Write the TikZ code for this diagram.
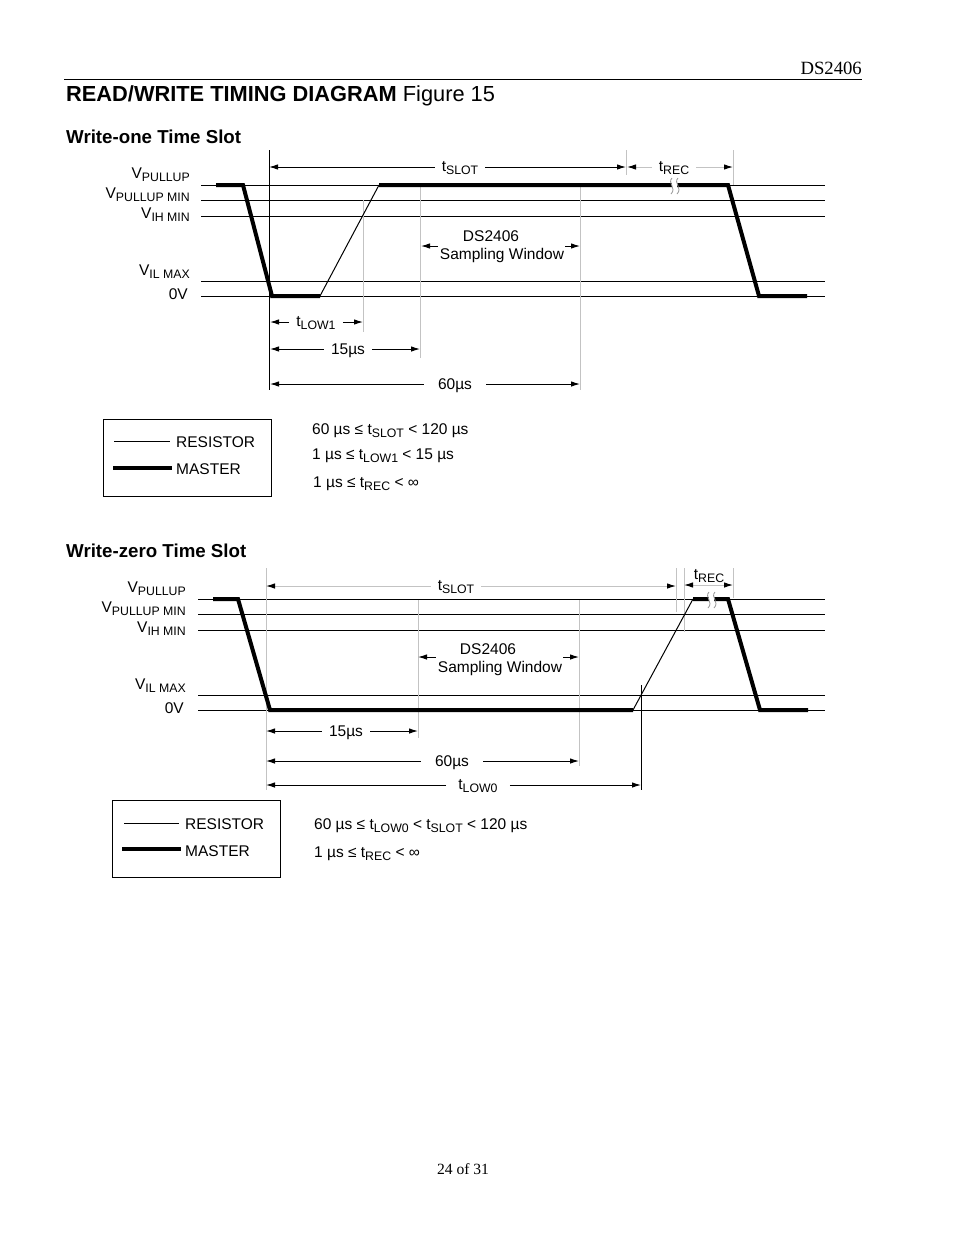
\documentclass[tikz,border=0pt]{standalone}
\usepackage{fontspec}
\setmainfont{Liberation Sans}
\newfontfamily\timesf{Liberation Serif}
\usetikzlibrary{arrows.meta,calc}
\definecolor{guide}{RGB}{195,195,195}
\definecolor{brk}{RGB}{150,150,150}
\newcommand{\sbs}[1]{\raisebox{-3.5pt}{\fontsize{12.3}{12.3}\selectfont #1}}
\begin{document}
\begin{tikzpicture}[x=1pt,y=-1pt,
  lbl/.style={font=\fontsize{15.5}{18}\selectfont, inner sep=0pt},
  dimtxt/.style={font=\fontsize{15.5}{18}\selectfont, inner xsep=7pt, inner ysep=0pt, anchor=base},
  thinl/.style={line width=1pt, black},
  greyl/.style={line width=1pt, guide},
  master/.style={line width=4pt, black, line join=miter, line cap=butt},
  brkl/.style={brk, line width=0.8pt},
  tip/.style={-{Latex[length=9pt,width=5.5pt,color=black]}},
]
\useasboundingbox (0,0) rectangle (954,1235);
\fill[white] (0,0) rectangle (954,1235);

% ---------- header ----------
\node[font=\timesf\fontsize{18.7}{22}\selectfont, anchor=base east, inner sep=0pt] (hdr) at (862,74) {DS2406};
\coordinate (hl) at (64,79);
\coordinate (hr) at (862,79);
\draw[thinl] (hl) -- (hr);
\node[font=\fontsize{21.8}{26}\selectfont, anchor=base west, inner sep=0pt] (title) at (66,101) {\textbf{READ/WRITE TIMING DIAGRAM} Figure 15};
\node[font=\bfseries\fontsize{18.7}{22}\selectfont, anchor=base west, inner sep=0pt] (sub1) at (66,143) {Write-one Time Slot};

% ---------- write-one: level lines ----------
\foreach \yy in {185,200,216,281,296} \draw[thinl] (201,\yy) -- (825,\yy);
\node[lbl, anchor=base east] (a1) at (190,178) {V\sbs{PULLUP}};
\node[lbl, anchor=base east] (a2) at (190,198) {V\sbs{PULLUP MIN}};
\node[lbl, anchor=base east] (a3) at (190,218) {V\sbs{IH MIN}};
\node[lbl, anchor=base east] (a4) at (190,275) {V\sbs{IL MAX}};
\node[lbl, anchor=base east] (a5) at (188,299) {0V};

% guide verticals
\draw[thinl] (269,150) -- (269,390);
\draw[greyl] (363,200) -- (363,332);
\draw[greyl] (420,187) -- (420,358);
\draw[greyl] (580,187) -- (580,390);
\draw[greyl] (626,150) -- (626,175);
\draw[greyl] (733,150) -- (733,185);

% waveform
\draw[master] (216,185) -- (243,185) -- (272,296) -- (320,296);
\draw[thinl] (320,296) -- (379,185);
\draw[master] (379,185) -- (728,185) -- (759,296) -- (807,296);
% break symbol
\fill[white] (672,182) rectangle (677,188);
\draw[brkl] (672,178) .. controls (667,183) and (677,188) .. (671,194);
\draw[brkl] (678,178) .. controls (673,183) and (683,188) .. (677,194);

% tSLOT / tREC
\node[dimtxt] (ts1) at (460,171) {t\sbs{SLOT}};
\coordinate (ts1L) at (269,167);
\coordinate (ts1R) at (626,167);
\draw[thinl, tip] (ts1.west |- ts1L) -- (ts1L);
\draw[thinl, tip] (ts1.east |- ts1R) -- (ts1R);
\node[dimtxt] (tr1) at (674,171) {t\sbs{REC}};
\coordinate (tr1L) at (627,167);
\coordinate (tr1R) at (733,167);
\draw[greyl, tip] (tr1.west |- tr1L) -- (tr1L);
\draw[greyl, tip] (tr1.east |- tr1R) -- (tr1R);

% sampling window
\node[lbl, anchor=base] (ds1) at (491,241) {DS2406};
\node[lbl, anchor=base] (sw1) at (502,259) {Sampling Window};
\coordinate (sw1L) at (421,246);
\coordinate (sw1R) at (580,246);
\draw[thinl, tip] ($(sw1.west |- sw1L)+(-2,0)$) -- (sw1L);
\draw[thinl, tip] ($(sw1.east |- sw1R)+(1,0)$) -- (sw1R);

% tLOW1, 15us, 60us
\node[dimtxt] (tl1) at (316,326) {t\sbs{LOW1}};
\coordinate (tl1L) at (270,322);
\coordinate (tl1R) at (363,322);
\draw[thinl, tip] (tl1.west |- tl1L) -- (tl1L);
\draw[thinl, tip] (tl1.east |- tl1R) -- (tl1R);
\node[dimtxt] (f1) at (348,354) {15µs};
\coordinate (f1L) at (270,349);
\coordinate (f1R) at (420,349);
\draw[thinl, tip] (f1.west |- f1L) -- (f1L);
\draw[thinl, tip] (f1.east |- f1R) -- (f1R);
\node[dimtxt, inner xsep=14pt] (s1) at (455,389) {60µs};
\coordinate (s1L) at (270,384);
\coordinate (s1R) at (580,384);
\draw[thinl, tip] (s1.west |- s1L) -- (s1L);
\draw[thinl, tip] (s1.east |- s1R) -- (s1R);

% legend 1
\node[draw, line width=1pt, anchor=north west, minimum width=168pt, minimum height=77pt, inner sep=0pt] (leg1) at (103,419) {};
\node[lbl, anchor=base west] (r1) at (176,447) {RESISTOR};
\node[lbl, anchor=base west] (m1) at (176,474) {MASTER};
\coordinate (r1a) at (114,441);
\coordinate (m1a) at (113,468);
\draw[thinl] (r1a) -- ($(r1a -| r1.west)+(-6,0)$);
\draw[master] (m1a) -- ($(m1a -| m1.west)+(-4,0)$);

\node[lbl, anchor=base west] (c1) at (312,434) {60 µs ≤ t\sbs{SLOT} < 120 µs};
\node[lbl, anchor=base west] (c2) at (312,459) {1 µs ≤ t\sbs{LOW1} < 15 µs};
\node[lbl, anchor=base west] (c3) at (313,487) {1 µs ≤ t\sbs{REC} < ∞};

% ---------- write-zero ----------
\node[font=\bfseries\fontsize{18.7}{22}\selectfont, anchor=base west, inner sep=0pt] (sub2) at (66,557) {Write-zero Time Slot};
\foreach \yy in {599,614,630,695,710} \draw[thinl] (198,\yy) -- (825,\yy);
\node[lbl, anchor=base east] (b1) at (186,592) {V\sbs{PULLUP}};
\node[lbl, anchor=base east] (b2) at (186,612) {V\sbs{PULLUP MIN}};
\node[lbl, anchor=base east] (b3) at (186,632) {V\sbs{IH MIN}};
\node[lbl, anchor=base east] (b4) at (186,689) {V\sbs{IL MAX}};
\node[lbl, anchor=base east] (b5) at (184,713) {0V};

% guide verticals
\draw[greyl] (266,568) -- (266,790);
\draw[greyl] (418,600) -- (418,738);
\draw[greyl] (579,600) -- (579,766);
\draw[greyl] (676,568) -- (676,612);
\draw[greyl] (684,568) -- (684,632);
\draw[greyl] (733,568) -- (733,598);
\draw[thinl] (641,685) -- (641,790);

% waveform
\draw[master] (213,599) -- (238,599) -- (270,710) -- (633,710);
\draw[thinl] (633,710) -- (693,599);
\draw[master] (693,599) -- (728,599) -- (760,710) -- (808,710);
\fill[white] (709,596) rectangle (714,602);
\draw[brkl] (709,592) .. controls (704,597) and (714,602) .. (708,608);
\draw[brkl] (715,592) .. controls (710,597) and (720,602) .. (714,608);

% tSLOT / tREC
\node[dimtxt] (ts2) at (456,590) {t\sbs{SLOT}};
\coordinate (ts2L) at (266,586);
\coordinate (ts2R) at (676,586);
\draw[greyl, tip] (ts2.west |- ts2L) -- (ts2L);
\draw[greyl, tip] (ts2.east |- ts2R) -- (ts2R);
\node[lbl, anchor=base] (tr2) at (709,579) {t\sbs{REC}};
\coordinate (tr2L) at (684,585);
\coordinate (tr2R) at (733,585);
\coordinate (tr2M) at (709,585);
\draw[greyl, tip] (tr2M) -- (tr2L);
\draw[greyl, tip] (tr2M) -- (tr2R);

% sampling window
\node[lbl, anchor=base] (ds2) at (488,654) {DS2406};
\node[lbl, anchor=base] (sw2) at (500,672) {Sampling Window};
\coordinate (sw2L) at (418,657);
\coordinate (sw2R) at (579,657);
\draw[thinl, tip] ($(sw2.west |- sw2L)+(-2,0)$) -- (sw2L);
\draw[thinl, tip] ($(sw2.east |- sw2R)+(1,0)$) -- (sw2R);

% 15us, 60us, tLOW0
\node[dimtxt] (f2) at (346,736) {15µs};
\coordinate (f2L) at (266,731);
\coordinate (f2R) at (418,731);
\draw[thinl, tip] (f2.west |- f2L) -- (f2L);
\draw[thinl, tip] (f2.east |- f2R) -- (f2R);
\node[dimtxt, inner xsep=14pt] (s2) at (452,766) {60µs};
\coordinate (s2L) at (266,761);
\coordinate (s2R) at (579,761);
\draw[thinl, tip] (s2.west |- s2L) -- (s2L);
\draw[thinl, tip] (s2.east |- s2R) -- (s2R);
\node[dimtxt, inner xsep=12pt] (tl0) at (478,789) {t\sbs{LOW0}};
\coordinate (tl0L) at (266,785);
\coordinate (tl0R) at (641,785);
\draw[thinl, tip] (tl0.west |- tl0L) -- (tl0L);
\draw[thinl, tip] (tl0.east |- tl0R) -- (tl0R);

% legend 2
\node[draw, line width=1pt, anchor=north west, minimum width=168pt, minimum height=77pt, inner sep=0pt] (leg2) at (112,800) {};
\node[lbl, anchor=base west] (r2) at (185,829) {RESISTOR};
\node[lbl, anchor=base west] (m2) at (185,856) {MASTER};
\coordinate (r2a) at (124,823);
\coordinate (m2a) at (122,849);
\draw[thinl] (r2a) -- ($(r2a -| r2.west)+(-6,0)$);
\draw[master] (m2a) -- ($(m2a -| m2.west)+(-4,0)$);

\node[lbl, anchor=base west] (d1) at (314,829) {60 µs ≤ t\sbs{LOW0} < t\sbs{SLOT} < 120 µs};
\node[lbl, anchor=base west] (d2) at (314,857) {1 µs ≤ t\sbs{REC} < ∞};

% footer
\node[font=\timesf\fontsize{15.6}{18}\selectfont, anchor=base, inner sep=0pt] (ftr) at (463,1174) {24 of 31};
\end{tikzpicture}
\end{document}
